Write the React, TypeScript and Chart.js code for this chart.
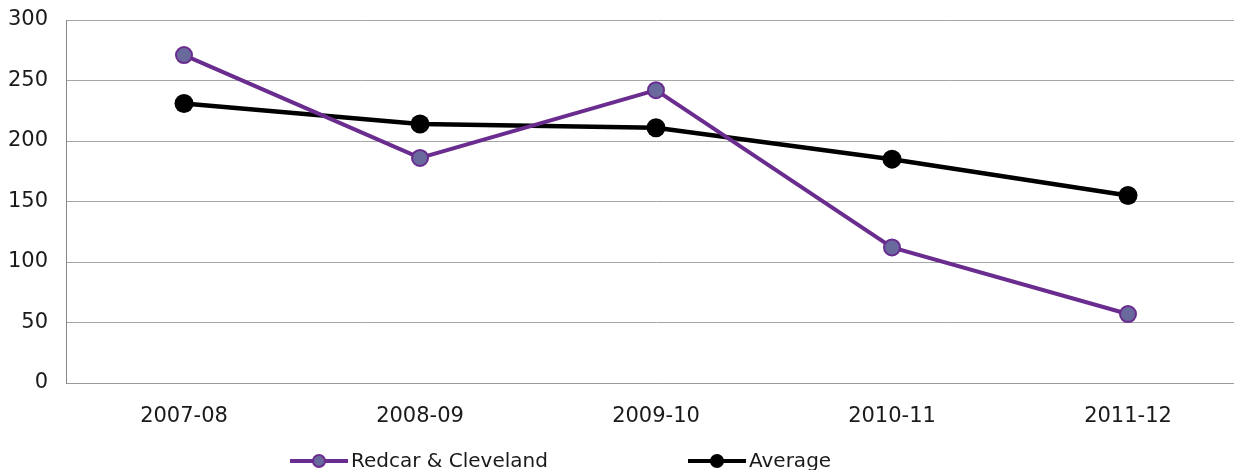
import React, { useEffect, useRef } from "react";
import { Chart, registerables } from "chart.js";

Chart.register(...registerables);

const categories = ["2007-08", "2008-09", "2009-10", "2010-11", "2011-12"];
const redcarValues = [271, 186, 242, 112, 57];
const averageValues = [231, 214, 211, 185, 155];
const yTicks = [0, 50, 100, 150, 200, 250, 300];

const PURPLE = "#6A2C8E";
const PURPLE_FILL = "#69699D";
const FONT = "'DejaVu Sans', Verdana, sans-serif";

const legendPlugin = {
  id: "customLegend",
  afterDraw(chart: any) {
    const ctx = chart.ctx;
    const items = [
      { label: "Redcar & Cleveland", line: PURPLE, fill: PURPLE_FILL, border: PURPLE, x: 290 },
      { label: "Average", line: "#000000", fill: "#000000", border: "#000000", x: 688 },
    ];
    const y = 461;
    ctx.save();
    items.forEach((it) => {
      ctx.strokeStyle = it.line;
      ctx.lineWidth = 4;
      ctx.beginPath();
      ctx.moveTo(it.x, y);
      ctx.lineTo(it.x + 58, y);
      ctx.stroke();
      ctx.beginPath();
      ctx.arc(it.x + 29, y, 6, 0, Math.PI * 2);
      ctx.fillStyle = it.fill;
      ctx.fill();
      ctx.lineWidth = 2;
      ctx.strokeStyle = it.border;
      ctx.stroke();
      ctx.fillStyle = "#1a1a1a";
      ctx.font = `20px ${FONT}`;
      ctx.textBaseline = "middle";
      ctx.textAlign = "left";
      ctx.fillText(it.label, it.x + 61, y + 1);
    });
    ctx.restore();
  },
};

export default function App() {
  const ref = useRef<HTMLCanvasElement>(null);
  useEffect(() => {
    if (!ref.current) return;
    const chart = new Chart(ref.current, {
      type: "line",
      data: {
        labels: categories,
        datasets: [
          {
            label: "Redcar & Cleveland",
            data: redcarValues,
            borderColor: PURPLE,
            borderWidth: 4,
            pointRadius: 8,
            pointBorderWidth: 2,
            pointBackgroundColor: PURPLE_FILL,
            pointBorderColor: PURPLE,
            tension: 0,
          },
          {
            label: "Average",
            data: averageValues,
            borderColor: "#000000",
            borderWidth: 4.5,
            pointRadius: 9.5,
            pointBorderWidth: 0,
            pointBackgroundColor: "#000000",
            pointBorderColor: "#000000",
            tension: 0,
          },
        ],
      },
      plugins: [legendPlugin],
      options: {
        animation: false,
        responsive: false,
        maintainAspectRatio: false,
        layout: { padding: { top: 20, right: 4, left: 0, bottom: 0 } },
        plugins: { legend: { display: false }, tooltip: { enabled: false } },
        scales: {
          x: {
            offset: true,
            grid: { display: false, drawTicks: false },
            border: { display: true, color: "#999999", width: 1 },
            ticks: { color: "#1a1a1a", font: { family: FONT, size: 21 }, padding: 21 },
            afterFit(scale: any) {
              scale.height = 87;
              scale.paddingLeft = 0;
              scale.paddingRight = 0;
            },
          },
          y: {
            min: 0,
            max: 300,
            afterBuildTicks(scale: any) {
              scale.ticks = yTicks.map((v) => ({ value: v }));
            },
            grid: { color: "#a6a6a6", lineWidth: 1, drawTicks: false },
            border: { display: true, color: "#888888", width: 1 },
            ticks: { color: "#1a1a1a", font: { family: FONT, size: 21 }, padding: 18 },
            afterFit(scale: any) {
              scale.width = 66;
              scale.paddingTop = 0;
              scale.paddingBottom = 0;
            },
          },
        },
      },
    });
    return () => chart.destroy();
  }, []);
  return (
    <div style={{ position: "absolute", left: 0, top: 0, width: 1234, height: 470, overflow: "hidden", background: "#fff" }}>
      <canvas ref={ref} width={1256} height={470} style={{ display: "block", width: 1256, height: 470 }} />
    </div>
  );
}
